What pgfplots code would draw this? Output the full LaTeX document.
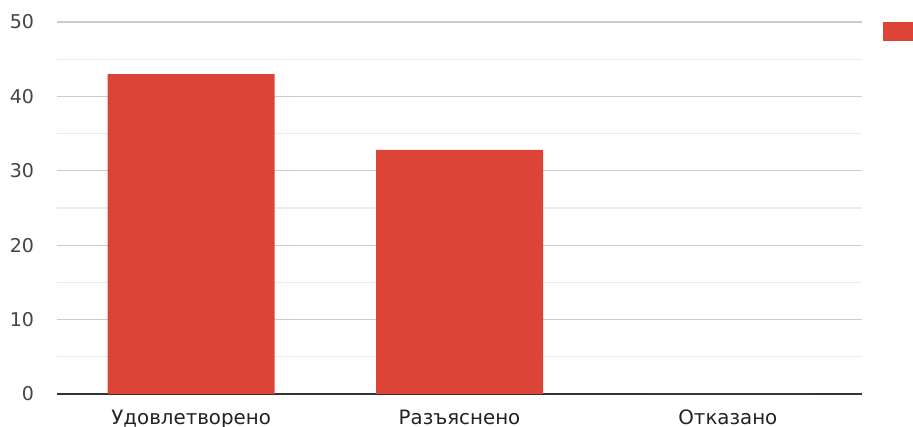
\documentclass[border=0pt]{standalone}
\usepackage{fontspec}
\setmainfont{DejaVu Sans}
\usepackage{pgfplots}
\pgfplotsset{compat=1.18}

\definecolor{barred}{RGB}{219,68,55}
\definecolor{majgrid}{RGB}{204,204,204}
\definecolor{mingrid}{RGB}{235,235,235}
\definecolor{ticktext}{RGB}{68,68,68}
\definecolor{cattext}{RGB}{34,34,34}

\begin{document}
\begin{tikzpicture}
\begin{axis}[
    at={(0,0)}, anchor=south west,
    scale only axis,
    width=402.5pt, height=186pt,
    font=\fontsize{9.5}{11}\selectfont,
    /pgf/number format/assume math mode=true,
    ymin=0, ymax=50,
    xmin=-0.5, xmax=2.5,
    xtick=data,
    xticklabels={Удовлетворено, Разъяснено, Отказано},
    ytick={0,10,...,50},
    minor ytick={5,15,...,45},
    ymajorgrids, yminorgrids,
    major grid style={majgrid, line width=0.6pt},
    minor grid style={mingrid, line width=0.6pt},
    axis x line*=bottom,
    axis y line*=left,
    x axis line style={draw=black!80, line width=0.7pt, -},
    y axis line style={draw=none},
    major tick length=0pt, minor tick length=0pt,
    yticklabel style={text=ticktext, anchor=east, xshift=-8pt},
    xticklabel style={text=cattext, yshift=-4.5pt, font=\fontsize{9.9}{11}\selectfont},
    ybar, bar width=83.5pt,
    legend style={at={(1.026,1)}, anchor=north west, draw=none, fill=none,
        inner sep=0pt, outer sep=0pt},
    legend image code/.code={\fill[barred] (0pt,-4.75pt) rectangle (15pt,4.75pt);},
]
\addplot[fill=barred, draw=none] coordinates {(0,43) (1,32.8) (2,0)};
\addlegendentry{}
\end{axis}
\pgfresetboundingbox
\useasboundingbox (-28.5pt,-16.5pt) rectangle (428pt,197pt);
\end{tikzpicture}
\end{document}
